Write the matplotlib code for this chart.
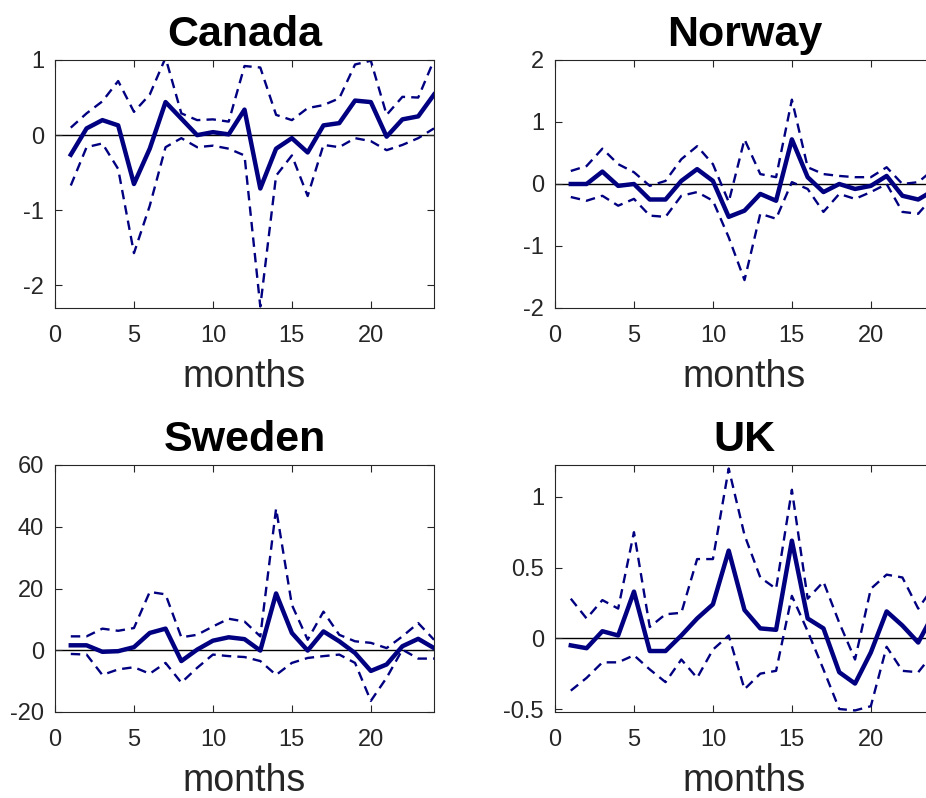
import numpy as np
import matplotlib
matplotlib.use('Agg')
import matplotlib.pyplot as plt

plt.rcParams['font.family'] = ['Liberation Sans', 'DejaVu Sans']
plt.rcParams['axes.unicode_minus'] = False

months = np.arange(1, 25)

# Canada
canada_mid = [-0.26, 0.09, 0.2, 0.13, -0.65, -0.18, 0.44, 0.22, 0.0, 0.04, 0.01, 0.34,
              -0.71, -0.18, -0.04, -0.23, 0.13, 0.16, 0.46, 0.44, -0.02, 0.21, 0.25, 0.54]
canada_up = [0.1, 0.29, 0.45, 0.72, 0.31, 0.54, 1.03, 0.29, 0.2, 0.21, 0.18, 0.92,
             0.9, 0.27, 0.2, 0.36, 0.4, 0.49, 0.94, 0.99, 0.27, 0.51, 0.5, 1.0]
canada_lo = [-0.67, -0.16, -0.11, -0.45, -1.57, -0.94, -0.16, -0.04, -0.16, -0.14, -0.18, -0.27,
             -2.28, -0.54, -0.27, -0.81, -0.13, -0.16, -0.04, -0.08, -0.2, -0.13, -0.04, 0.09]

# Norway
norway_mid = [0.0, 0.0, 0.2, -0.03, 0.0, -0.25, -0.25, 0.05, 0.24, 0.05, -0.53, -0.43,
              -0.16, -0.27, 0.72, 0.11, -0.13, 0.0, -0.08, -0.03, 0.13, -0.19, -0.25, -0.1]
norway_up = [0.21, 0.29, 0.57, 0.32, 0.19, -0.03, 0.05, 0.4, 0.61, 0.32, -0.29, 0.72,
             0.16, 0.11, 1.36, 0.27, 0.16, 0.13, 0.11, 0.11, 0.27, 0.0, 0.03, 0.24]
norway_lo = [-0.21, -0.27, -0.19, -0.35, -0.24, -0.51, -0.53, -0.19, -0.13, -0.27, -0.86, -1.55,
             -0.48, -0.56, 0.03, -0.08, -0.45, -0.16, -0.24, -0.13, 0.0, -0.45, -0.48, -0.19]

# Sweden
sweden_mid = [1.6, 1.6, -0.5, -0.3, 1.0, 5.6, 7.0, -3.5, 0.2, 3.1, 4.2, 3.6,
              -0.1, 18.4, 5.6, -0.1, 6.1, 2.9, -0.9, -6.7, -4.6, 1.3, 3.7, 0.7]
sweden_up = [4.5, 4.5, 7.0, 6.3, 7.2, 18.9, 18.1, 4.2, 5.0, 7.7, 10.2, 9.3,
             4.5, 45.9, 14.7, 3.4, 12.5, 5.0, 2.9, 2.4, 0.7, 4.5, 8.8, 3.4]
sweden_lo = [-1.2, -1.4, -8.0, -6.2, -5.5, -7.6, -4.1, -10.5, -5.7, -1.4, -1.9, -2.2,
             -3.5, -8.0, -4.1, -2.5, -1.9, -1.4, -4.1, -16.4, -8.9, 0.2, -2.7, -2.7]

# UK
uk_mid = [-0.05, -0.07, 0.05, 0.02, 0.33, -0.09, -0.09, 0.02, 0.14, 0.24, 0.62, 0.2,
          0.07, 0.06, 0.69, 0.14, 0.07, -0.24, -0.32, -0.1, 0.19, 0.09, -0.03, 0.18]
uk_up = [0.28, 0.14, 0.27, 0.21, 0.75, 0.08, 0.17, 0.18, 0.56, 0.56, 1.2, 0.73,
         0.43, 0.35, 1.05, 0.28, 0.4, 0.11, -0.15, 0.35, 0.45, 0.43, 0.21, 0.37]
uk_lo = [-0.37, -0.28, -0.17, -0.17, -0.12, -0.22, -0.31, -0.15, -0.28, -0.08, 0.02, -0.36,
         -0.25, -0.23, 0.3, 0.05, -0.22, -0.5, -0.51, -0.48, -0.06, -0.23, -0.24, -0.1]

panels = [
    ('Canada', canada_mid, canada_up, canada_lo, (-2.3, 1), [-2, -1, 0, 1], ['-2', '-1', '0', '1']),
    ('Norway', norway_mid, norway_up, norway_lo, (-2, 2), [-2, -1, 0, 1, 2], ['-2', '-1', '0', '1', '2']),
    ('Sweden', sweden_mid, sweden_up, sweden_lo, (-20, 60), [-20, 0, 20, 40, 60], ['-20', '0', '20', '40', '60']),
    ('UK', uk_mid, uk_up, uk_lo, (-0.521, 1.225), [-0.5, 0, 0.5, 1], ['-0.5', '0', '0.5', '1']),
]

W, H = 926, 798
fig = plt.figure(figsize=(W / 100, H / 100), dpi=100)

# axes boxes in pixels: left, top, right, bottom
boxes = [(55, 60, 434, 308), (555, 60, 934, 308),
         (55, 465, 434, 712), (555, 465, 934, 712)]

navy = '#000080'
grey = '#262626'

for (name, mid, up, lo, ylim, yt, ytl), (l, t, r, b) in zip(panels, boxes):
    ax = fig.add_axes([l / W, 1 - b / H, (r - l) / W, (b - t) / H])
    ax.axhline(0, color='k', lw=1.0, zorder=1)
    ax.plot(months, up, color=navy, lw=1.7, dashes=(4, 2.6), zorder=2)
    ax.plot(months, lo, color=navy, lw=1.7, dashes=(4, 2.6), zorder=2)
    ax.plot(months, mid, color=navy, lw=3.2, zorder=3)
    ax.set_xlim(0, 24)
    ax.set_ylim(*ylim)
    ax.set_xticks([0, 5, 10, 15, 20])
    ax.set_yticks(yt)
    ax.set_yticklabels(ytl)
    ax.tick_params(direction='in', top=True, right=True, length=5, width=0.8,
                   labelsize=17, colors=grey, labelcolor=grey)
    ax.tick_params(axis='x', pad=12)
    ax.tick_params(axis='y', pad=8)
    for s in ax.spines.values():
        s.set_color(grey)
        s.set_linewidth(0.8)
    ax.set_xlabel('months', fontsize=27, color=grey, labelpad=9)
    ax.set_title(name, fontsize=31, fontweight='bold', pad=10)

fig.savefig('out.png', dpi=100)
